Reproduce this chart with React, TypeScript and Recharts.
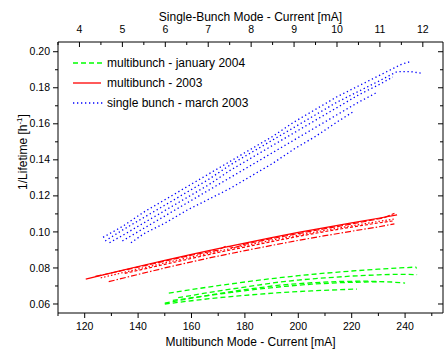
import { Line, LineChart, XAxis, YAxis } from "recharts";

const font = '"Liberation Sans", Arial, sans-serif';

// multibunch mode current [mA] / 1/lifetime [1/h] : January 2004 (green dashed)
const green2004: [number, number][][] = [
  [[151.5, 0.066], [160, 0.068], [170, 0.0702], [180, 0.0722], [190, 0.0741], [200, 0.0757], [210, 0.0771], [220, 0.0783], [230, 0.0793], [238, 0.08], [244, 0.0805], [244.3, 0.0797]],
  [[155, 0.0635], [165, 0.066], [175, 0.0683], [185, 0.0705], [193, 0.0722], [200, 0.0733], [210, 0.0745], [220, 0.0755], [230, 0.0762], [238, 0.0765], [244.5, 0.0763]],
  [[153, 0.062], [165, 0.0645], [175, 0.0664], [185, 0.0683], [195, 0.0698], [205, 0.071], [215, 0.0718], [225, 0.0722], [230, 0.0723]],
  [[150, 0.0605], [160, 0.0632], [170, 0.0657], [180, 0.068], [193, 0.0705], [205, 0.0718], [215, 0.0725], [225, 0.0727], [235, 0.0722], [240, 0.0716]],
  [[150, 0.06], [160, 0.0618], [170, 0.0635], [180, 0.0648], [193, 0.0663], [205, 0.0673], [215, 0.0679], [222, 0.0683]],
];

// multibunch 2003 (red)
const red2003: [number, number][][] = [
  [[120.4, 0.0738], [130, 0.0773], [140, 0.0808], [150, 0.0842], [160, 0.0875], [170, 0.0907], [180, 0.0938], [190, 0.0968], [200, 0.0997], [210, 0.1024], [220, 0.105], [230, 0.1076], [237, 0.1095]],
  [[124, 0.0753], [130, 0.0772], [140, 0.0805], [150, 0.0838], [160, 0.0871], [170, 0.0899], [173, 0.0922], [176, 0.0912], [180, 0.0932], [190, 0.0963], [200, 0.0991], [210, 0.1018], [220, 0.1044], [232, 0.1078], [236, 0.1103]],
  [[126, 0.0745], [140, 0.0794], [150, 0.0828], [160, 0.0861], [170, 0.0893], [180, 0.0924], [190, 0.0954], [200, 0.0982], [210, 0.1009], [220, 0.1034], [230, 0.1058], [236, 0.1072]],
  [[129, 0.0724], [140, 0.0764], [150, 0.08], [160, 0.0834], [170, 0.0866], [180, 0.0896], [190, 0.0925], [200, 0.0953], [210, 0.0979], [220, 0.1004], [230, 0.1028], [236, 0.1045]],
  [[135, 0.077], [150, 0.082], [160, 0.0853], [170, 0.0886], [180, 0.0916], [190, 0.0946], [200, 0.0975], [210, 0.1002], [220, 0.1027], [230, 0.105], [236, 0.1062]],
];
const redDash = [undefined, "6 2", "1.5 2", "6 2 1.5 2", "3 2"];

// single bunch - march 2003 (blue dotted), single-bunch current [mA]
const blueMarch: [number, number][][] = [
  [[4.55, 0.097], [5.0, 0.103], [5.5, 0.111], [6.0, 0.118], [6.5, 0.125], [7.0, 0.132], [7.5, 0.139], [8.0, 0.146], [8.5, 0.153], [9.0, 0.161], [9.5, 0.168], [10.0, 0.175], [10.5, 0.181], [11.0, 0.187], [11.5, 0.193], [11.7, 0.1945]],
  [[4.6, 0.095], [5.0, 0.101], [5.5, 0.108], [6.0, 0.115], [6.5, 0.122], [7.0, 0.129], [7.5, 0.137], [8.0, 0.144], [8.5, 0.151], [9.0, 0.158], [9.5, 0.165], [10.0, 0.172], [10.5, 0.178], [11.0, 0.184], [11.4, 0.189], [11.7, 0.189], [12.0, 0.188]],
  [[4.7, 0.094], [5.0, 0.098], [5.5, 0.105], [6.0, 0.112], [6.5, 0.119], [7.0, 0.126], [7.5, 0.134], [8.0, 0.141], [8.5, 0.148], [9.0, 0.155], [9.5, 0.162], [10.0, 0.169], [10.5, 0.176], [11.0, 0.182], [11.3, 0.186]],
  [[5.0, 0.095], [5.5, 0.102], [6.0, 0.109], [6.5, 0.116], [7.0, 0.123], [7.5, 0.13], [8.0, 0.137], [8.5, 0.144], [9.0, 0.151], [9.5, 0.158], [10.0, 0.165], [10.5, 0.172], [10.9, 0.177]],
  [[5.2, 0.094], [5.5, 0.099], [6.0, 0.105], [6.5, 0.112], [7.0, 0.118], [7.5, 0.124], [8.0, 0.131], [8.5, 0.138], [9.0, 0.146], [9.5, 0.153], [10.0, 0.161], [10.4, 0.167]],
];

const bottomMajor = [120, 140, 160, 180, 200, 220, 240];
const bottomMinor = [110, 130, 150, 170, 190, 210, 230, 250];
const topMajor = [4, 5, 6, 7, 8, 9, 10, 11, 12];
const topMinor = [3.5, 4.5, 5.5, 6.5, 7.5, 8.5, 9.5, 10.5, 11.5];
const yMajor = [0.06, 0.08, 0.1, 0.12, 0.14, 0.16, 0.18, 0.2];
const yMinor = [0.07, 0.09, 0.11, 0.13, 0.15, 0.17, 0.19];

const sortNum = (a: number[]) => [...a].sort((p, q) => p - q);
const toPts = (t: [number, number][]) => t.map(([x, y]) => ({ x, y }));

const BottomTick = (p: any) => {
  const v = p.payload.value;
  const major = bottomMajor.includes(v);
  return (
    <g>
      <line x1={p.x} x2={p.x} y1={p.y} y2={p.y + (major ? 5 : 3)} stroke="#000" />
      {major && (
        <text x={p.x} y={p.y + 16.5} textAnchor="middle" fontSize={10.5} fontFamily={font} fill="#000">
          {v}
        </text>
      )}
    </g>
  );
};

const TopTick = (p: any) => {
  const v = p.payload.value;
  const major = topMajor.includes(v);
  return (
    <g>
      <line x1={p.x} x2={p.x} y1={p.y} y2={p.y + (major ? 5 : 3)} stroke="#000" />
      {major && (
        <text x={p.x} y={p.y - 8.7} textAnchor="middle" fontSize={10.5} fontFamily={font} fill="#000">
          {v}
        </text>
      )}
    </g>
  );
};

const LeftTick = (p: any) => {
  const v = p.payload.value;
  const major = yMajor.includes(v);
  return (
    <g>
      <line x1={p.x} x2={p.x - (major ? 5 : 3)} y1={p.y} y2={p.y} stroke="#000" />
      {major && (
        <text x={p.x - 8} y={p.y + 3.6} textAnchor="end" fontSize={10.5} fontFamily={font} fill="#000">
          {v.toFixed(2)}
        </text>
      )}
    </g>
  );
};

const RightTick = (p: any) => {
  const major = yMajor.includes(p.payload.value);
  return <line x1={p.x} x2={p.x - (major ? 5 : 3)} y1={p.y} y2={p.y} stroke="#000" />;
};

export default function App() {
  return (
    <div style={{ position: "relative", width: 444, height: 349, background: "#fff" }}>
      <style>{`body{margin:0}`}</style>
      <LineChart width={444} height={349} margin={{ top: 0, right: 0, bottom: 0, left: 0 }}>
        <XAxis
          xAxisId="b"
          type="number"
          dataKey="x"
          domain={[110, 254.2]}
          allowDataOverflow
          ticks={sortNum([...bottomMajor, ...bottomMinor])}
          interval={0}
          height={36}
          tickSize={0}
          tickMargin={0}
          tickLine={false}
          tick={(p: any) => <BottomTick {...p} />}
          axisLine={{ stroke: "#000" }}
          label={{
            content: (props: any) => (
              <text x={props.viewBox.x + props.viewBox.width / 2} y={props.viewBox.y + 32.5} textAnchor="middle" fontSize={12} fontFamily={font} fill="#000">
                Multibunch Mode - Current [mA]
              </text>
            ),
          }}
        />
        <XAxis
          xAxisId="t"
          orientation="top"
          type="number"
          dataKey="x"
          domain={[3.5, 12.47]}
          allowDataOverflow
          ticks={sortNum([...topMajor, ...topMinor])}
          interval={0}
          height={42}
          tickSize={0}
          tickMargin={0}
          tickLine={false}
          tick={(p: any) => <TopTick {...p} />}
          axisLine={{ stroke: "#000" }}
          label={{
            content: (props: any) => (
              <text x={props.viewBox.x + props.viewBox.width / 2} y={props.viewBox.y + 20.5} textAnchor="middle" fontSize={12} fontFamily={font} fill="#000">
                Single-Bunch Mode - Current [mA]
              </text>
            ),
          }}
        />
        <YAxis
          yAxisId="l"
          type="number"
          domain={[0.055, 0.2054]}
          allowDataOverflow
          ticks={sortNum([...yMajor, ...yMinor])}
          interval={0}
          width={58}
          tickSize={0}
          tickMargin={0}
          tickLine={false}
          tick={(p: any) => <LeftTick {...p} />}
          axisLine={{ stroke: "#000" }}
          label={{
            content: () => (
              <text transform="translate(27,152) rotate(-90)" textAnchor="middle" fontSize={12} fontFamily={font} fill="#000">
                1/Lifetime [h
                <tspan fontSize={8} dy={-5}>-1</tspan>
                <tspan dy={5}>]</tspan>
              </text>
            ),
          }}
        />
        <YAxis
          yAxisId="r"
          orientation="right"
          type="number"
          domain={[0.055, 0.2054]}
          allowDataOverflow
          ticks={sortNum([...yMajor, ...yMinor])}
          interval={0}
          width={1}
          tickSize={0}
          tickMargin={0}
          tickLine={false}
          tick={(p: any) => <RightTick {...p} />}
          axisLine={{ stroke: "#000" }}
        />
        {green2004.map((t, i) => (
          <Line
            key={"g" + i}
            data={toPts(t)}
            dataKey="y"
            xAxisId="b"
            yAxisId="r"
            stroke="#00ff00"
            strokeWidth={1.3}
            strokeDasharray="5 3"
            dot={false}
            isAnimationActive={false}
          />
        ))}
        {red2003.map((t, i) => (
          <Line
            key={"r" + i}
            data={toPts(t)}
            dataKey="y"
            xAxisId="b"
            yAxisId="l"
            stroke="#ff0000"
            strokeWidth={1.2}
            strokeDasharray={redDash[i]}
            dot={false}
            isAnimationActive={false}
          />
        ))}
        {blueMarch.map((t, i) => (
          <Line
            key={"b" + i}
            data={toPts(t)}
            dataKey="y"
            xAxisId="t"
            yAxisId="l"
            stroke="#0000ff"
            strokeWidth={1.3}
            strokeDasharray="1.3 2.7"
            dot={false}
            isAnimationActive={false}
          />
        ))}
      </LineChart>
      <svg width={444} height={349} style={{ position: "absolute", left: 0, top: 0, pointerEvents: "none" }}>
        <g fontFamily={font} fontSize={12} fill="#000">
          <line x1={73} x2={103} y1={63} y2={63} stroke="#00ff00" strokeWidth={1.3} strokeDasharray="5 3" />
          <text x={107} y={67}>multibunch - january 2004</text>
          <line x1={73} x2={101} y1={83} y2={83} stroke="#ff0000" strokeWidth={1.3} />
          <text x={107} y={87}>multibunch - 2003</text>
          <line x1={73} x2={103} y1={103} y2={103} stroke="#0000ff" strokeWidth={1.3} strokeDasharray="1.3 2.7" />
          <text x={107} y={107}>single bunch - march 2003</text>
        </g>
      </svg>
    </div>
  );
}
